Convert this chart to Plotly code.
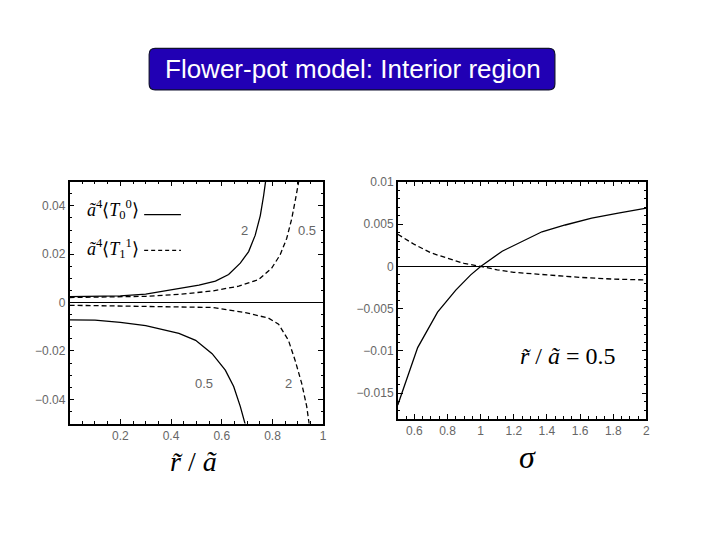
import plotly.graph_objects as go

# left panel: <T00> (solid) and <T11> (dashed) vs r/a, labelled by sigma
r_solid_2 = [0.0, 0.1, 0.2, 0.3, 0.431, 0.51, 0.575, 0.627, 0.673, 0.706, 0.732, 0.752, 0.765, 0.774]
t00_solid_2 = [0.0025, 0.0025, 0.0028, 0.0035, 0.0057, 0.0072, 0.0089, 0.0116, 0.0163, 0.0211, 0.0279, 0.036, 0.0442, 0.051]

r_dash_05 = [0.0, 0.15, 0.3, 0.431, 0.562, 0.667, 0.745, 0.797, 0.83, 0.856, 0.876, 0.891, 0.905]
t11_dash_05 = [0.0021, 0.0022, 0.0026, 0.0034, 0.0048, 0.0068, 0.0095, 0.0143, 0.0197, 0.0265, 0.0347, 0.0429, 0.051]

r_dash_2 = [0.0, 0.3, 0.431, 0.562, 0.693, 0.784, 0.824, 0.863, 0.889, 0.915, 0.935, 0.945]
t11_dash_2 = [-0.0011, -0.0014, -0.0018, -0.002, -0.0041, -0.0064, -0.0089, -0.0156, -0.0238, -0.0333, -0.0429, -0.0505]

r_solid_05 = [0.0, 0.1, 0.2, 0.3, 0.431, 0.497, 0.562, 0.614, 0.647, 0.673, 0.693]
t00_solid_05 = [-0.0071, -0.0072, -0.0082, -0.0095, -0.0127, -0.0156, -0.0211, -0.0279, -0.0347, -0.0429, -0.0505]

# right panel: sigma dependence at r/a = 0.5
sigma_vals = [0.5, 0.55, 0.62, 0.74, 0.85, 0.94, 1.0, 1.13, 1.25, 1.37, 1.51, 1.67, 1.83, 2.0]
t00_sigma = [-0.0164, -0.0135, -0.0096, -0.0054, -0.0028, -0.001, 0.0, 0.0018, 0.003, 0.0041, 0.0049, 0.0057, 0.0063, 0.0069]
sigma_dash = [0.5, 0.6, 0.7, 0.8, 0.9, 1.0, 1.1, 1.2, 1.4, 1.6, 1.8, 2.0]
t11_sigma = [0.0038, 0.0026, 0.0016, 0.00093, 0.00035, 0.0, -0.0004, -0.0007, -0.001, -0.0013, -0.0015, -0.0016]

curve_labels = ["2", "0.5", "0.5", "2"]
label_x = [0.69, 0.935, 0.53, 0.865]
label_y = [0.030, 0.030, -0.0336, -0.0336]

SERIF = "Liberation Serif"
TICKFONT = dict(family="Liberation Sans", size=12, color="#666666")
DASH = "5px,3px"
W, H = 720, 540


def px_x(p):
    return p / W


def px_y(p):
    return 1 - p / H


fig = go.Figure()
line_solid = dict(color="black", width=1.3)
line_dash = dict(color="black", width=1.3, dash=DASH)

fig.add_trace(go.Scatter(x=r_solid_2, y=t00_solid_2, mode="lines", line=line_solid, xaxis="x", yaxis="y"))
fig.add_trace(go.Scatter(x=r_dash_05, y=t11_dash_05, mode="lines", line=line_dash, xaxis="x", yaxis="y"))
fig.add_trace(go.Scatter(x=r_dash_2, y=t11_dash_2, mode="lines", line=line_dash, xaxis="x", yaxis="y"))
fig.add_trace(go.Scatter(x=r_solid_05, y=t00_solid_05, mode="lines", line=line_solid, xaxis="x", yaxis="y"))
fig.add_trace(go.Scatter(x=sigma_vals, y=t00_sigma, mode="lines", line=line_solid, xaxis="x2", yaxis="y2"))
fig.add_trace(go.Scatter(x=sigma_dash, y=t11_sigma, mode="lines", line=line_dash, xaxis="x2", yaxis="y2"))

frame = dict(showline=True, linecolor="black", linewidth=1.5, mirror="allticks",
             ticks="inside", ticklen=5, tickcolor="black", tickwidth=1,
             showgrid=False, tickfont=TICKFONT, zeroline=False,
             minor=dict(ticks="inside", ticklen=2.5, tickcolor="black", showgrid=False))

fig.update_layout(
    width=W, height=H,
    margin=dict(l=0, r=0, t=0, b=0),
    paper_bgcolor="white", plot_bgcolor="white",
    showlegend=False,
    xaxis=dict(frame, domain=[px_x(70), px_x(325)], range=[0, 1],
               tickvals=[0.2, 0.4, 0.6, 0.8, 1], ticktext=["0.2", "0.4", "0.6", "0.8", "1"],
               minor=dict(frame["minor"], dtick=0.05), anchor="y"),
    yaxis=dict(frame, domain=[px_y(422), px_y(177)], range=[-0.05, 0.05],
               tickvals=[-0.04, -0.02, 0, 0.02, 0.04],
               ticktext=["\u22120.04", "\u22120.02", "0", "0.02", "0.04"],
               minor=dict(frame["minor"], dtick=0.005), anchor="x",
               zeroline=True, zerolinecolor="black", zerolinewidth=1.3),
    xaxis2=dict(frame, domain=[px_x(400), px_x(650)], range=[0.5, 2],
                tickvals=[0.6, 0.8, 1, 1.2, 1.4, 1.6, 1.8, 2],
                ticktext=["0.6", "0.8", "1", "1.2", "1.4", "1.6", "1.8", "2"],
                minor=dict(frame["minor"], dtick=0.05), anchor="y2"),
    yaxis2=dict(frame, domain=[px_y(417), px_y(177)], range=[-0.018, 0.01002],
                tickvals=[-0.015, -0.01, -0.005, 0, 0.005, 0.01],
                ticktext=["\u22120.015", "\u22120.01", "\u22120.005", "0", "0.005", "0.01"],
                minor=dict(frame["minor"], dtick=0.001), anchor="x2",
                zeroline=True, zerolinecolor="black", zerolinewidth=1.3),
)

# curve labels
for txt, lx, ly in zip(curve_labels, label_x, label_y):
    fig.add_annotation(x=lx, y=ly, xref="x", yref="y", text=txt, showarrow=False,
                       font=dict(family="Liberation Sans", size=13, color="#666666"))

# legend inside left panel
fig.add_annotation(x=0.06, y=0.0384, xref="x", yref="y", xanchor="left", yanchor="middle", showarrow=False,
                   text="<i>\u00e3</i><sup>4</sup>\u27e8<i>T</i><sub>0</sub><sup>0</sup>\u27e9",
                   font=dict(family=SERIF, size=18, color="black"))
fig.add_annotation(x=0.06, y=0.0222, xref="x", yref="y", xanchor="left", yanchor="middle", showarrow=False,
                   text="<i>\u00e3</i><sup>4</sup>\u27e8<i>T</i><sub>1</sub><sup>1</sup>\u27e9",
                   font=dict(family=SERIF, size=18, color="black"))
fig.add_shape(type="line", xref="x", yref="y", x0=0.294, x1=0.439, y0=0.0364, y1=0.0364,
              line=dict(color="black", width=1.2))
fig.add_shape(type="line", xref="x", yref="y", x0=0.294, x1=0.439, y0=0.0216, y1=0.0216,
              line=dict(color="black", width=1.2, dash="4px,3px"))

# right panel annotation
fig.add_annotation(x=1.53, y=-0.0106, xref="x2", yref="y2", showarrow=False,
                   text="<i>r\u0303</i> / <i>\u00e3</i> = 0.5",
                   font=dict(family=SERIF, size=24, color="black"))

# axis titles
fig.add_annotation(x=px_x(195), y=px_y(460), xref="paper", yref="paper", showarrow=False,
                   xanchor="center", yanchor="middle",
                   text="<i>r\u0303</i> / <i>\u00e3</i>", font=dict(family=SERIF, size=28, color="black"))
fig.add_annotation(x=px_x(530), y=px_y(456), xref="paper", yref="paper", showarrow=False,
                   xanchor="center", yanchor="middle",
                   text="<i>\u03c3</i>", font=dict(family=SERIF, size=32, color="black"))

# title box with rounded corners
x0, x1, y0, y1, rad = px_x(150), px_x(558), px_y(84), px_y(42), 6
rx, ry = rad / W, rad / H
path = (f"M {x0 + rx},{y0} L {x1 - rx},{y0} Q {x1},{y0} {x1},{y0 + ry} "
        f"L {x1},{y1 - ry} Q {x1},{y1} {x1 - rx},{y1} L {x0 + rx},{y1} "
        f"Q {x0},{y1} {x0},{y1 - ry} L {x0},{y0 + ry} Q {x0},{y0} {x0 + rx},{y0} Z")
fig.add_shape(type="path", path=path, xref="paper", yref="paper",
              fillcolor="#2100b4", line=dict(color="#101030", width=1.2), layer="below")
fig.add_annotation(x=px_x(355), y=px_y(63), xref="paper", yref="paper", showarrow=False,
                   xanchor="center", yanchor="middle",
                   text="Flower-pot model: Interior region",
                   font=dict(family="Liberation Sans", size=26, color="white"))

# drop the default page margin so the figure sits at the window's corner
fig.write_html("out.html", config={"displayModeBar": False},
               post_script="document.body.style.margin='0';document.body.style.overflow='hidden';")
